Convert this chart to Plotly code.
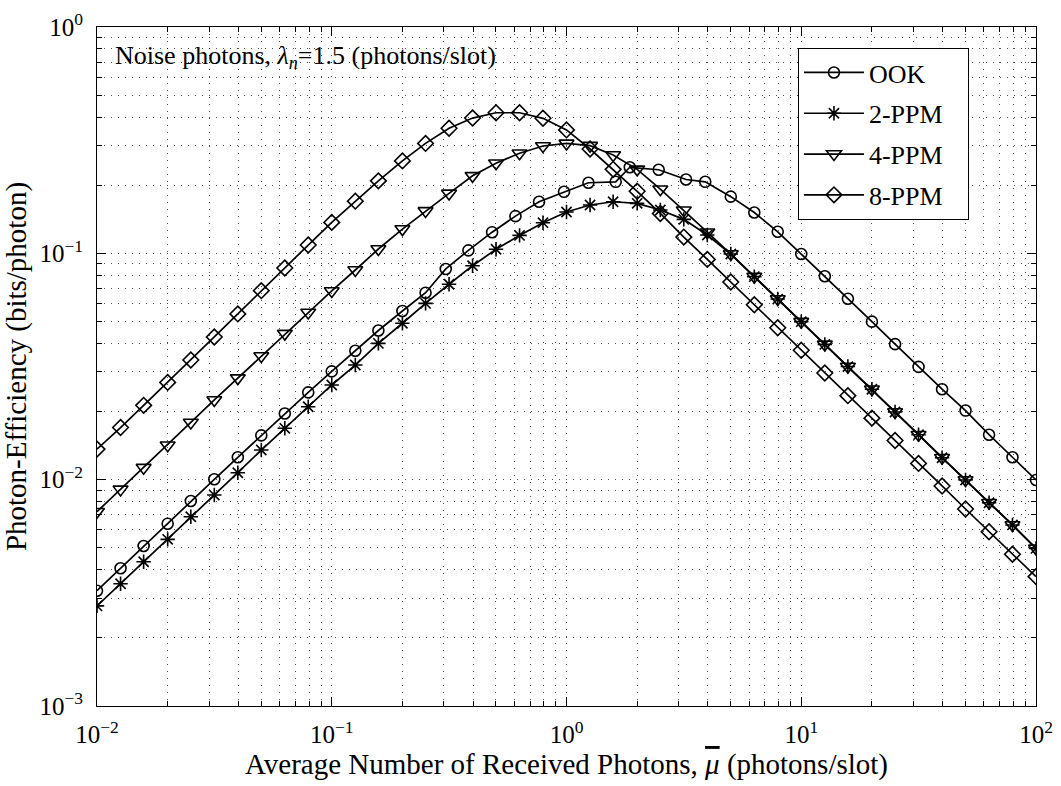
import plotly.graph_objects as go

# Average number of received photons per slot (x grid, 10 points per decade)
mu = [0.01, 0.0126, 0.0158, 0.02, 0.0251, 0.0316, 0.0398, 0.0501, 0.0631, 0.0794,
      0.1, 0.126, 0.158, 0.2, 0.251, 0.316, 0.398, 0.501, 0.631, 0.794,
      1.0, 1.26, 1.58, 2.0, 2.51, 3.16, 3.98, 5.01, 6.31, 7.94,
      10.0, 12.6, 15.8, 20.0, 25.1, 31.6, 39.8, 50.1, 63.1, 79.4, 100.0]

# OOK uses its own sample points around the peak
mu_ook = [0.01, 0.0126, 0.0158, 0.02, 0.0251, 0.0316, 0.0398, 0.0501, 0.0631, 0.0794,
          0.1, 0.126, 0.158, 0.2, 0.251, 0.306, 0.382, 0.482, 0.606, 0.764,
          0.976, 1.24, 1.62, 1.86, 2.47, 3.23, 3.90, 5.01, 6.31, 7.94,
          10.0, 12.6, 15.8, 20.0, 25.1, 31.6, 39.8, 50.1, 63.1, 79.4, 100.0]

# Photon efficiency (bits/photon)
ook = [0.00323, 0.00406, 0.00509, 0.00639, 0.00805, 0.01004, 0.01256, 0.0157, 0.0196, 0.0243,
       0.0301, 0.0371, 0.0456, 0.0556, 0.0670, 0.0853, 0.1031, 0.124, 0.146, 0.169,
       0.187, 0.205, 0.207, 0.240, 0.234, 0.212, 0.207, 0.178, 0.1515, 0.1245,
       0.0993, 0.0792, 0.0630, 0.0499, 0.0397, 0.0315, 0.0251, 0.0202, 0.0158, 0.01256, 0.00997]

ppm2 = [0.00277, 0.00347, 0.00434, 0.00545, 0.00686, 0.00855, 0.01073, 0.01352, 0.01686, 0.0210,
        0.0262, 0.0321, 0.0400, 0.0491, 0.0601, 0.0730, 0.0882, 0.1042, 0.120, 0.1366,
        0.1523, 0.1635, 0.169, 0.1663, 0.1554, 0.1413, 0.1205, 0.0993, 0.0789, 0.0628,
        0.0499, 0.0396, 0.0316, 0.0251, 0.0199, 0.0158, 0.0125, 0.00997, 0.00791, 0.00631, 0.00497]

ppm4 = [0.00722, 0.00906, 0.0113, 0.0142, 0.0179, 0.0225, 0.0281, 0.0352, 0.0442, 0.0548,
        0.0682, 0.0844, 0.1045, 0.128, 0.154, 0.184, 0.220, 0.250, 0.277, 0.298,
        0.306, 0.299, 0.272, 0.235, 0.192, 0.155, 0.124, 0.0993, 0.0789, 0.0628,
        0.0499, 0.0396, 0.0316, 0.0251, 0.0199, 0.0158, 0.0125, 0.00997, 0.00791, 0.00631, 0.00497]

ppm8 = [0.01365, 0.0170, 0.0213, 0.0269, 0.0338, 0.0427, 0.0540, 0.0684, 0.0861, 0.1088,
        0.137, 0.170, 0.209, 0.256, 0.306, 0.357, 0.396, 0.418, 0.418, 0.395,
        0.351, 0.289, 0.235, 0.188, 0.150, 0.118, 0.094, 0.0747, 0.0593, 0.0469,
        0.0373, 0.0296, 0.0235, 0.0187, 0.0149, 0.0118, 0.00938, 0.00742, 0.00589, 0.00468, 0.00373]

# Axis ticks
x_ticks = [0.01, 0.1, 1, 10, 100]
x_ticktext = ["10<sup>\u22122</sup>", "10<sup>\u22121</sup>", "10<sup>0</sup>",
              "10<sup>1</sup>", "10<sup>2</sup>"]
y_ticks = [0.001, 0.01, 0.1, 1]
y_ticktext = ["10<sup>\u22123</sup>", "10<sup>\u22122</sup>", "10<sup>\u22121</sup>",
              "10<sup>0</sup>"]
x_minor = [m * d for d in (0.01, 0.1, 1, 10) for m in range(2, 10)]
y_minor = [m * d for d in (0.001, 0.01, 0.1) for m in range(2, 10)]

FONT = "Liberation Serif"
BLACK = "#000000"
PAD = "\u00a0\u00a0\u00a0"  # extra room on the right of the legend entries

series = [
    ("OOK", mu_ook, ook, "circle-open", 11),
    ("2-PPM", mu, ppm2, "asterisk-open", 12),
    ("4-PPM", mu, ppm4, "triangle-down-open", 13),
    ("8-PPM", mu, ppm8, "diamond-open", 12),
]

fig = go.Figure()
for name, xs, ys, sym, size in series:
    fig.add_trace(go.Scatter(
        x=xs, y=ys, name=name + PAD, mode="lines+markers", legendgroup=name,
        line=dict(color=BLACK, width=1.7),
        marker=dict(symbol=sym, size=size, color=BLACK,
                    line=dict(color=BLACK, width=1.6)),
    ))

grid_style = dict(showgrid=True, gridcolor="rgba(0,0,0,0.7)", gridwidth=1,
                  griddash="1px,6px")

fig.update_xaxes(
    type="log", range=[-2, 2], tickmode="array", tickvals=x_ticks, ticktext=x_ticktext,
    ticks="inside", ticklen=9, tickwidth=1, tickcolor=BLACK,
    showline=True, linecolor=BLACK, linewidth=1, mirror="ticks",
    zeroline=False, automargin=False,
    tickfont=dict(family=FONT, size=25, color=BLACK), ticklabelstandoff=6,
    minor=dict(tickmode="array", tickvals=x_minor, ticks="inside", ticklen=5,
               tickcolor=BLACK, **grid_style),
    title=dict(text="Average Number of Received Photons, "
                    "<span style=\"text-decoration:overline\"><i>\u03bc</i></span> (photons/slot)",
               font=dict(family=FONT, size=29, color=BLACK), standoff=4),
    **grid_style,
)
fig.update_yaxes(
    type="log", range=[-3, 0], tickmode="array", tickvals=y_ticks, ticktext=y_ticktext,
    ticks="inside", ticklen=9, tickwidth=1, tickcolor=BLACK,
    showline=True, linecolor=BLACK, linewidth=1, mirror="ticks",
    zeroline=False, automargin=False,
    tickfont=dict(family=FONT, size=25, color=BLACK), ticklabelstandoff=8,
    minor=dict(tickmode="array", tickvals=y_minor, ticks="inside", ticklen=5,
               tickcolor=BLACK, **grid_style),
    title=dict(text="Photon-Efficiency (bits/photon)",
               font=dict(family=FONT, size=29, color=BLACK), standoff=4),
    **grid_style,
)

fig.add_annotation(
    x=0.017, y=0.956, xref="paper", yref="paper", xanchor="left", yanchor="middle",
    text="Noise photons, <i>\u03bb</i><sub><i>n</i></sub>=1.5 (photons/slot)",
    showarrow=False, font=dict(family=FONT, size=26, color=BLACK),
)

fig.update_layout(
    width=1061, height=786,
    margin=dict(l=97, r=25, t=27, b=80),
    paper_bgcolor="white", plot_bgcolor="white",
    font=dict(family=FONT, color=BLACK),
    legend=dict(x=0.7465, y=0.969, xanchor="left", yanchor="top",
                bgcolor="white", bordercolor=BLACK, borderwidth=1,
                font=dict(family=FONT, size=26, color=BLACK),
                tracegroupgap=4, itemwidth=60),
)

fig.write_html("out.html")
